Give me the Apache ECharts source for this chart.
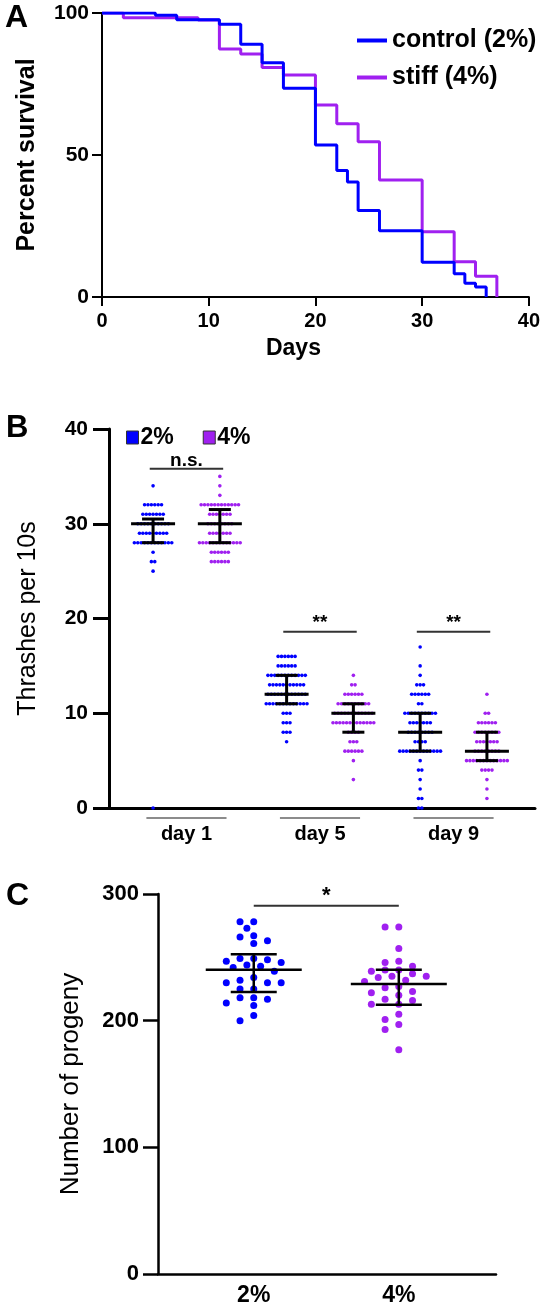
<!DOCTYPE html>
<html><head><meta charset="utf-8">
<script src="https://cdn.jsdelivr.net/npm/echarts@6/dist/echarts.min.js"></script>
<style>html,body{margin:0;padding:0;background:#fff}#c{width:543px;height:1310px}</style>
</head><body><div id="c"></div>
<script>
// ---------- Panel A: survival (day, percent) ----------
const controlSurvival = [[0,100],[5,99.2],[7,97.6],[11,96],[13,89],[15,82.5],[17,73.5],[20,53.5],[22,44.5],[23,40.5],[24,30.5],[26,23.3],[30,12.2],[33,8.2],[34,4.8],[35,3.5],[36,0]];
const stiffSurvival   = [[0,100],[2,98.3],[9,97.5],[11,87.3],[13,85.6],[15,80.8],[17,78.2],[20,67.6],[22,61],[24,54.7],[26,41.2],[30,23],[33,12.4],[35,7.3],[37,0]];
const survivalNames = ['control (2%)','stiff (4%)'];

// ---------- Panel B: thrashes, [value, number of animals] ----------
const dayLabels = ['day 1','day 5','day 9'];
const thr_d1_2pct = [[34,1],[32,6],[31,7],[30,10],[29,9],[28,12],[27,1],[26,2],[25,1],[0,1]];
const thr_d1_4pct = [[35,1],[34,1],[33,1],[32,12],[31,7],[30,8],[29,7],[28,13],[27,6],[26,6]];
const thr_d5_2pct = [[16,6],[15,6],[14,12],[13,11],[12,12],[11,13],[10,3],[9,3],[8,3],[7,1]];
const thr_d5_4pct = [[14,1],[13,2],[12,6],[11,10],[10,12],[9,13],[8,4],[7,3],[6,6],[5,1],[3,1]];
const thr_d9_2pct = [[17,1],[15,1],[14,1],[13,3],[12,6],[11,2],[10,10],[9,7],[8,8],[7,4],[6,13],[5,1],[4,2],[3,1],[2,1],[1,2],[0,2]];
const thr_d9_4pct = [[12,1],[10,2],[9,6],[8,8],[7,7],[6,8],[5,13],[4,4],[3,1],[2,1],[1,1]];
const thrMedian2 = [30,12,8],   thrLow2 = [28,11,6], thrHigh2 = [30.5,14,10];
const thrMedian4 = [30,10,6],   thrLow4 = [28,8,5],  thrHigh4 = [31.5,11,8];
const sigLabelsB = ['n.s.','**','**'];
const sigLevelB  = [35.8,18.6,18.6];

// ---------- Panel C: progeny ----------
const progenyLabels = ['2%','4%'];
const progeny2pct = [278,278,273,267,266,263,261,249,249,248,247,246,244,243,242,239,234,232,230,230,230,225,225,218,218,217,214,212,204,200];
const progeny4pct = [274,274,257,247,246,243,240,240,239,237,235,235,234,232,231,227,226,223,222,220,217,216,213,213,205,201,197,193,177];
const progenyMean = [240.2,228.9], progenyLow = [222.6,212.5], progenyHigh = [252.5,240.2];
const sigLabelsC = ['*'];
const sigLevelC = [290.7];

const FONT = '"Liberation Sans", Arial, Helvetica, sans-serif';
const BLUE = '#0000ff', PURPLE = '#a020f0';

// grid geometry (layout)
const gA = {left:102, top:13, width:429, height:284};
const gB = {left:109, top:429, width:426, height:379};
const gC = {left:158, top:894, width:338, height:380};

function rowDots(list, x, spacing){
  const out = [];
  list.forEach(([v,n]) => {
    for (let k = 0; k < n; k++) out.push({value:[x, v], symbolOffset:[(k-(n-1)/2)*spacing, 0]});
  });
  return out;
}
function beeswarm(values, x, pxPerUnit, d){
  const sorted = values.slice().sort((a,b) => b-a);
  const placed = [], out = [];
  const rx = 1.9*d, ry = d, step = d*0.98;
  sorted.forEach(v => {
    const y = v*pxPerUnit;
    for (let k = 0; k < 60; k++){
      const m = k === 0 ? 0 : (k % 2 ? -Math.ceil(k/2) : Math.ceil(k/2));
      const dx = m*step;
      const ok = placed.every(p => { const a=(p.dx-dx)/rx, b=(p.y-y)/ry; return a*a+b*b >= 1; });
      if (ok){ placed.push({dx, y}); out.push({value:[x, v], symbolOffset:[dx, 0]}); break; }
    }
  });
  return out;
}
function errRenderer(halfMean, halfCap, lw){
  return function(params, api){
    const x = api.value(0), m = api.value(1), lo = api.value(2), hi = api.value(3);
    const pm = api.coord([x,m]), pl = api.coord([x,lo]), ph = api.coord([x,hi]);
    const style = {stroke:'#000', lineWidth:lw};
    return {type:'group', children:[
      {type:'line', shape:{x1:pl[0], y1:pl[1], x2:ph[0], y2:ph[1]}, style},
      {type:'line', shape:{x1:pm[0]-halfMean, y1:pm[1], x2:pm[0]+halfMean, y2:pm[1]}, style},
      {type:'line', shape:{x1:pl[0]-halfCap, y1:pl[1], x2:pl[0]+halfCap, y2:pl[1]}, style},
      {type:'line', shape:{x1:ph[0]-halfCap, y1:ph[1], x2:ph[0]+halfCap, y2:ph[1]}, style}
    ]};
  };
}
function bracketRenderer(labels, fontSize){
  return function(params, api){
    const x1 = api.value(0), x2 = api.value(1), y = api.value(2);
    const p1 = api.coord([x1,y]), p2 = api.coord([x2,y]);
    return {type:'group', children:[
      {type:'line', shape:{x1:p1[0], y1:p1[1], x2:p2[0], y2:p2[1]}, style:{stroke:'#333', lineWidth:2}},
      {type:'text', x:(p1[0]+p2[0])/2, y:p1[1]+1, style:{text:labels[params.dataIndex], align:'center', verticalAlign:'bottom', fontSize:fontSize, fontWeight:'bold', fontFamily:FONT, fill:'#000'}}
    ]};
  };
}

// build B data
const bGroups2 = [thr_d1_2pct, thr_d5_2pct, thr_d9_2pct];
const bGroups4 = [thr_d1_4pct, thr_d5_4pct, thr_d9_4pct];
let b2 = [], b4 = [];
bGroups2.forEach((g,i) => { b2 = b2.concat(rowDots(g, 2*i, 3.4)); });
bGroups4.forEach((g,i) => { b4 = b4.concat(rowDots(g, 2*i+1, 3.4)); });
const bErr = [];
dayLabels.forEach((d,i) => {
  bErr.push([2*i, thrMedian2[i], thrLow2[i], thrHigh2[i]]);
  bErr.push([2*i+1, thrMedian4[i], thrLow4[i], thrHigh4[i]]);
});
const bBrackets = dayLabels.map((d,i) => [2*i-0.05, 2*i+1.05, sigLevelB[i]]);
const bUnder = dayLabels.map((d,i) => [2*i+0.5]);

const cPx = gC.height/300;
const c2 = beeswarm(progeny2pct, 0, cPx, 7);
const c4 = beeswarm(progeny4pct, 1, cPx, 7);
const cErr = progenyLabels.map((l,i) => [i, progenyMean[i], progenyLow[i], progenyHigh[i]]);
const cBrackets = [[0, 1, sigLevelC[0]]];

const lab = (size) => ({fontSize:size, fontWeight:'bold', color:'#000', fontFamily:FONT});
const axisLine = (w) => ({show:true, onZero:false, lineStyle:{color:'#000', width:w}});

const chart = echarts.init(document.getElementById('c'), null, {renderer:'canvas'});
chart.setOption({
  animation:false,
  backgroundColor:'#fff',
  title:[
    {text:'A', left:5, top:2, padding:0, textStyle:{fontSize:32, fontWeight:'bold', color:'#000', fontFamily:FONT}},
    {text:'B', left:6, top:413, padding:0, textStyle:{fontSize:31, fontWeight:'bold', color:'#000', fontFamily:FONT}},
    {text:'C', left:6, top:880, padding:0, textStyle:{fontSize:32, fontWeight:'bold', color:'#000', fontFamily:FONT}}
  ],
  legend:[
    {data:survivalNames, orient:'vertical', left:357, top:28, padding:0, itemWidth:30, itemHeight:4, itemGap:12, icon:'rect',
     textStyle:{fontSize:25, fontWeight:'bold', color:'#000', fontFamily:FONT}},
    {data:['2%','4%'], orient:'horizontal', left:126, top:426, padding:0, itemWidth:12, itemHeight:13, itemGap:29, icon:'rect',
     itemStyle:{borderColor:'#333', borderWidth:1, opacity:1},
     textStyle:{fontSize:23, fontWeight:'bold', color:'#000', fontFamily:FONT, padding:[0,0,0,-3]}}
  ],
  grid:[gA, gB, gC],
  xAxis:[
    {gridIndex:0, type:'value', min:0, max:40, interval:10, splitLine:{show:false},
     axisLine:axisLine(2), axisTick:{show:true, length:9, lineStyle:{width:2, color:'#000'}},
     axisLabel:Object.assign({margin:14}, lab(20)),
     name:'Days', nameLocation:'middle', nameGap:40, nameTextStyle:Object.assign({padding:[0,44,0,0]}, lab(23))},
    {gridIndex:1, type:'value', min:-0.66, max:5.72, splitLine:{show:false},
     axisLine:axisLine(3), axisTick:{show:false},
     axisLabel:Object.assign({margin:16, customValues:[0.5,2.5,4.5], formatter:(v)=>dayLabels[Math.round((v-0.5)/2)]}, lab(20))},
    {gridIndex:2, type:'value', min:-0.66, max:1.67, splitLine:{show:false},
     axisLine:axisLine(2.5), axisTick:{show:false},
     axisLabel:Object.assign({margin:10, customValues:[0,1], formatter:(v)=>progenyLabels[Math.round(v)]}, lab(23))}
  ],
  yAxis:[
    {gridIndex:0, type:'value', min:0, max:100, interval:50, splitLine:{show:false},
     axisLine:axisLine(2), axisTick:{show:true, length:10, lineStyle:{width:2, color:'#000'}},
     axisLabel:Object.assign({margin:13}, lab(21)),
     name:'Percent survival', nameLocation:'middle', nameGap:62, nameTextStyle:lab(25)},
    {gridIndex:1, type:'value', min:0, max:40, interval:10, splitLine:{show:false},
     axisLine:axisLine(3), axisTick:{show:true, length:16, lineStyle:{width:3, color:'#000'}},
     axisLabel:Object.assign({margin:21}, lab(21)),
     name:'Thrashes per 10s', nameLocation:'middle', nameGap:68, nameTextStyle:{fontSize:25, color:'#000', fontFamily:FONT}},
    {gridIndex:2, type:'value', min:0, max:300, interval:100, splitLine:{show:false},
     axisLine:axisLine(2.5), axisTick:{show:true, length:15, lineStyle:{width:2.5, color:'#000'}},
     axisLabel:Object.assign({margin:19}, lab(22)),
     name:'Number of progeny', nameLocation:'middle', nameGap:74, nameTextStyle:{fontSize:26, color:'#000', fontFamily:FONT}}
  ],
  series:[
    {name:survivalNames[1], type:'line', xAxisIndex:0, yAxisIndex:0, data:stiffSurvival, step:'end', showSymbol:false, symbol:'none',
     lineStyle:{color:PURPLE, width:3}, itemStyle:{color:PURPLE}, z:2},
    {name:survivalNames[0], type:'line', xAxisIndex:0, yAxisIndex:0, data:controlSurvival, step:'end', showSymbol:false, symbol:'none',
     lineStyle:{color:BLUE, width:3}, itemStyle:{color:BLUE}, z:3},

    {name:'2%', type:'scatter', xAxisIndex:1, yAxisIndex:1, data:b2, symbolSize:3.6, itemStyle:{color:BLUE, opacity:1}, clip:false, z:3},
    {name:'4%', type:'scatter', xAxisIndex:1, yAxisIndex:1, data:b4, symbolSize:3.6, itemStyle:{color:PURPLE, opacity:1}, clip:false, z:3},
    {name:'errB', type:'custom', xAxisIndex:1, yAxisIndex:1, data:bErr, renderItem:errRenderer(22,11,3), z:5, silent:true},
    {name:'sigB', type:'custom', xAxisIndex:1, yAxisIndex:1, data:bBrackets, renderItem:bracketRenderer(sigLabelsB,19), z:5, silent:true, clip:false},
    {name:'underB', type:'custom', xAxisIndex:1, yAxisIndex:1, data:bUnder, clip:false, silent:true, z:5,
     renderItem:function(params, api){
       const x = api.value(0);
       const p1 = api.coord([x-0.6,0]), p2 = api.coord([x+0.6,0]);
       return {type:'line', shape:{x1:p1[0], y1:p1[1]+10, x2:p2[0], y2:p2[1]+10}, style:{stroke:'#666', lineWidth:1.5}};
     }},

    {name:'progeny 2%', type:'scatter', xAxisIndex:2, yAxisIndex:2, data:c2, symbolSize:7, itemStyle:{color:BLUE, opacity:1}, z:3},
    {name:'progeny 4%', type:'scatter', xAxisIndex:2, yAxisIndex:2, data:c4, symbolSize:7, itemStyle:{color:PURPLE, opacity:1}, z:3},
    {name:'errC', type:'custom', xAxisIndex:2, yAxisIndex:2, data:cErr, renderItem:errRenderer(48,23,2.5), z:5, silent:true},
    {name:'sigC', type:'custom', xAxisIndex:2, yAxisIndex:2, data:cBrackets, renderItem:bracketRenderer(sigLabelsC,22), z:5, silent:true, clip:false}
  ]
});
</script>
</body></html>
